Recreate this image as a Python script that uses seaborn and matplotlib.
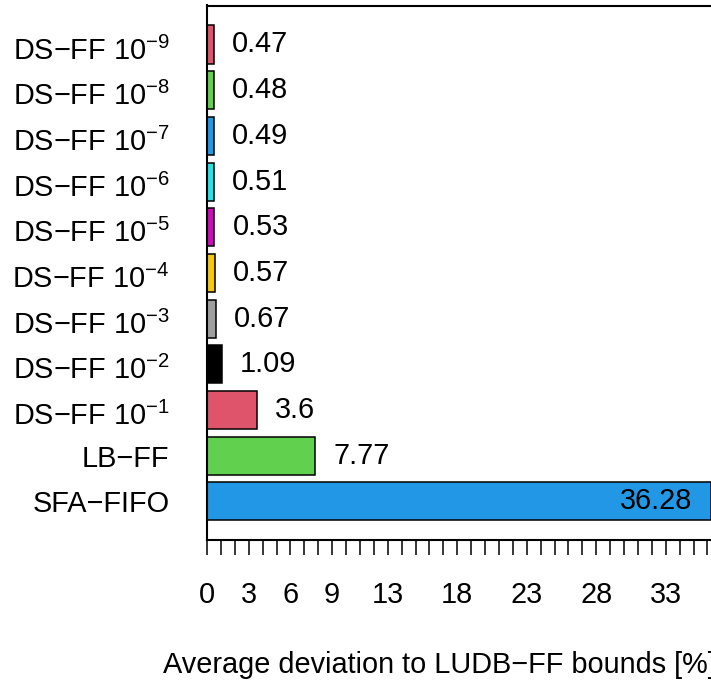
import matplotlib
matplotlib.use("Agg")
import matplotlib.pyplot as plt
import matplotlib.transforms as mtransforms
import seaborn as sns
import pandas as pd
from matplotlib.ticker import FixedLocator, NullFormatter

categories = [
    "DS\u2212FF 10$^{-9}$", "DS\u2212FF 10$^{-8}$", "DS\u2212FF 10$^{-7}$",
    "DS\u2212FF 10$^{-6}$", "DS\u2212FF 10$^{-5}$", "DS\u2212FF 10$^{-4}$",
    "DS\u2212FF 10$^{-3}$", "DS\u2212FF 10$^{-2}$", "DS\u2212FF 10$^{-1}$",
    "LB\u2212FF", "SFA\u2212FIFO",
]
values = [0.47, 0.48, 0.49, 0.51, 0.53, 0.57, 0.67, 1.09, 3.6, 7.77, 36.28]
value_labels = ["0.47", "0.48", "0.49", "0.51", "0.53", "0.57", "0.67", "1.09", "3.6", "7.77", "36.28"]
colors = ["#DF536B", "#61D04F", "#2297E6", "#28E2E5", "#CD0BBC", "#F5C710",
          "#9E9E9E", "#000000", "#DF536B", "#61D04F", "#2297E6"]
xtick_labels = [0, 3, 6, 9, 13, 18, 23, 28, 33]
xlabel = "Average deviation to LUDB\u2212FF bounds [%]"

sns.set_style("white")
plt.rcParams['font.family'] = ['Liberation Sans', 'DejaVu Sans']
plt.rcParams['mathtext.fontset'] = 'custom'
plt.rcParams['mathtext.rm'] = 'Liberation Sans'
plt.rcParams['mathtext.it'] = 'Liberation Sans:italic'
plt.rcParams['mathtext.bf'] = 'Liberation Sans:bold'
for k in ['text.color', 'axes.labelcolor', 'xtick.color', 'ytick.color']:
    plt.rcParams[k] = 'black'

FS = 20.8
W, H = 711, 681
fig = plt.figure(figsize=(W / 100, H / 100), dpi=100)
ax = fig.add_axes([207 / W, 1 - 540 / H, 543 / W, (540 - 5.5) / H])

df = pd.DataFrame({"cat": categories, "val": values})
sns.barplot(data=df, x="val", y="cat", hue="cat", palette=colors, legend=False,
            orient="h", width=0.833, edgecolor="black", linewidth=1.1, ax=ax,
            saturation=1)

ax.set_xlim(0, 543 / 13.9)
ax.set_ylim(len(categories) - 1 + 0.845, -0.853)

for i, (v, lab) in enumerate(zip(values, value_labels)):
    if v == max(values):
        ax.annotate(lab, (v, i), xytext=(-13.5, 0), textcoords="offset points",
                    ha="right", va="center", fontsize=FS, annotation_clip=False)
    else:
        ax.annotate(lab, (v, i), xytext=(13, 0), textcoords="offset points",
                    ha="left", va="center", fontsize=FS)

ax.xaxis.set_major_locator(FixedLocator(xtick_labels))
ax.set_xticklabels([str(t) for t in xtick_labels])
ax.xaxis.set_minor_locator(FixedLocator(list(range(0, 40))))
ax.xaxis.set_minor_formatter(NullFormatter())
ax.tick_params(axis="x", which="both", direction="out", length=11, width=1.1,
               bottom=True, labelsize=FS, pad=18.5, color="black")
ax.tick_params(axis="y", length=0, pad=27, labelsize=FS)

for side in ["left", "top", "bottom", "right"]:
    ax.spines[side].set_color("black")
    ax.spines[side].set_linewidth(1.5)

ax.set_xlabel("")
ax.set_ylabel("")

# labels with superscripts sit slightly lower (expression centred as a whole)
shift = mtransforms.ScaledTranslation(0, -3.5 / 100, fig.dpi_scale_trans)
for tick in ax.yaxis.get_major_ticks():
    if "$" in tick.label1.get_text():
        tick.label1.set_transform(tick.label1.get_transform() + shift)

fig.text(163 / W, 1 - 673 / H, xlabel, ha="left", va="baseline", fontsize=FS)

fig.savefig("out.png", dpi=100)
